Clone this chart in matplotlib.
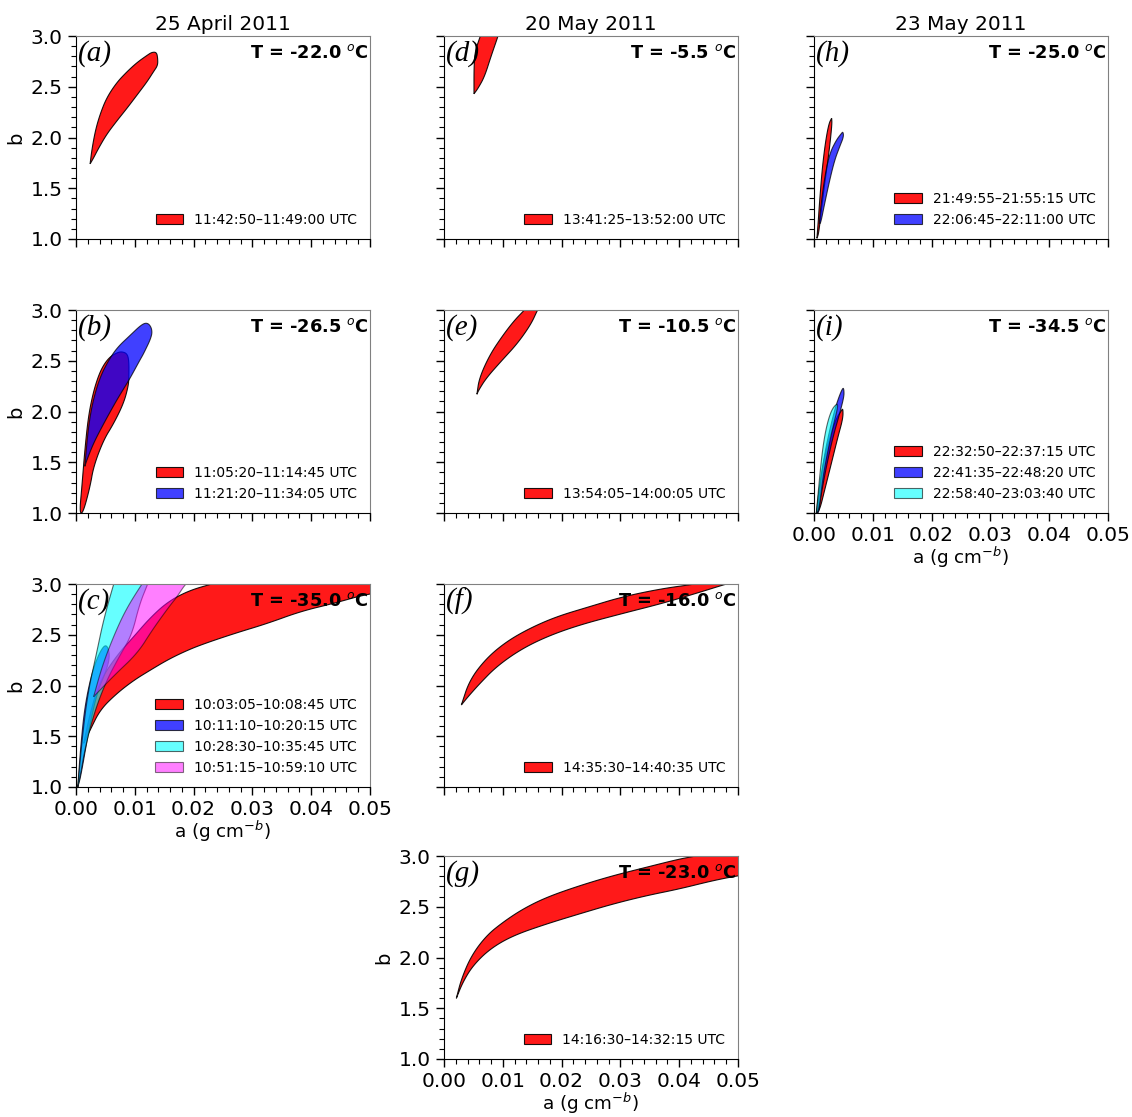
import matplotlib
matplotlib.use('Agg')
import matplotlib.pyplot as plt
from matplotlib.ticker import MultipleLocator
import numpy as np

# ---------------- data (region outlines) ----------------
col_titles = ['25 April 2011', '20 May 2011', '23 May 2011']

temps = {'a': '-22.0', 'b': '-26.5', 'c': '-35.0', 'd': '-5.5', 'e': '-10.5',
         'f': '-16.0', 'g': '-23.0', 'h': '-25.0', 'i': '-34.5'}

labels_a = ['11:42:50\u201311:49:00 UTC']
labels_b = ['11:05:20\u201311:14:45 UTC', '11:21:20\u201311:34:05 UTC']
labels_c = ['10:03:05\u201310:08:45 UTC', '10:11:10\u201310:20:15 UTC',
            '10:28:30\u201310:35:45 UTC', '10:51:15\u201310:59:10 UTC']
labels_d = ['13:41:25\u201313:52:00 UTC']
labels_e = ['13:54:05\u201314:00:05 UTC']
labels_f = ['14:35:30\u201314:40:35 UTC']
labels_g = ['14:16:30\u201314:32:15 UTC']
labels_h = ['21:49:55\u201321:55:15 UTC', '22:06:45\u201322:11:00 UTC']
labels_i = ['22:32:50\u201322:37:15 UTC', '22:41:35\u201322:48:20 UTC',
            '22:58:40\u201323:03:40 UTC']

# panel (a)
a_a_red = [0.0024, 0.0024, 0.0027, 0.0033, 0.0041, 0.0052, 0.0069, 0.0087, 0.0104, 0.0121, 0.0129,
           0.0137, 0.0139, 0.0139, 0.0132, 0.0121, 0.0104, 0.0087, 0.0069, 0.0052, 0.0038, 0.0030]
b_a_red = [1.74, 1.74, 1.88, 2.07, 2.23, 2.39, 2.54, 2.65, 2.74, 2.81, 2.84,
           2.84, 2.78, 2.71, 2.65, 2.55, 2.42, 2.29, 2.16, 2.03, 1.89, 1.80]

# panel (b)
a_b_red = [0.0006, 0.0010, 0.0015, 0.0021, 0.0029, 0.0038, 0.0047, 0.0058, 0.0070, 0.0078,
           0.0087, 0.0090, 0.0090, 0.0089, 0.0081, 0.0064, 0.0047, 0.0030, 0.0024, 0.0012]
b_b_red = [1.00, 1.26, 1.62, 1.95, 2.18, 2.35, 2.46, 2.54, 2.58, 2.59,
           2.57, 2.50, 2.34, 2.25, 2.08, 1.88, 1.72, 1.46, 1.26, 1.00]
a_b_blue = [0.0015, 0.0015, 0.0021, 0.0029, 0.0041, 0.0055, 0.0070, 0.0092, 0.0112, 0.0122,
            0.0129, 0.0129, 0.0115, 0.0109, 0.0095, 0.0087, 0.0069, 0.0047, 0.0030, 0.0019]
b_b_blue = [1.46, 1.46, 1.85, 2.11, 2.34, 2.50, 2.63, 2.75, 2.86, 2.875,
            2.82, 2.74, 2.57, 2.51, 2.36, 2.28, 2.11, 1.88, 1.69, 1.53]

# panel (c)
a_c_red = [0.0013, 0.0013, 0.0025, 0.0041, 0.0070, 0.0098, 0.0125, 0.0155, 0.0190, 0.0230,
           0.0300, 0.0600, 0.0600, 0.0500, 0.0439, 0.0382, 0.0325, 0.0268, 0.0212, 0.0183,
           0.0155, 0.0126, 0.0098, 0.0069, 0.0041, 0.0024]
b_c_red = [1.43, 1.43, 1.75, 2.05, 2.30, 2.48, 2.66, 2.82, 2.93, 3.00,
           3.10, 3.10, 2.98, 2.91, 2.81, 2.73, 2.61, 2.51, 2.40, 2.33,
           2.25, 2.15, 2.05, 1.92, 1.76, 1.56]
a_c_blue = [0.0003, 0.0003, 0.0008, 0.0015, 0.0028, 0.0042, 0.0052, 0.0058, 0.0052, 0.0035,
            0.0020, 0.0008]
b_c_blue = [1.00, 1.00, 1.40, 1.80, 2.15, 2.35, 2.41, 2.30, 2.15, 1.92, 1.50, 1.10]
a_c_cyan = [0.0003, 0.0003, 0.0012, 0.0021, 0.0035, 0.0047, 0.0064, 0.0075, 0.0135, 0.0122,
            0.0108, 0.0095, 0.0075, 0.0052, 0.0032, 0.0016, 0.0007]
b_c_cyan = [1.00, 1.00, 1.56, 1.95, 2.32, 2.65, 3.00, 3.20, 3.20, 3.00,
            2.80, 2.50, 2.30, 2.05, 1.75, 1.40, 1.10]
a_c_mag = [0.0030, 0.0030, 0.0045, 0.0065, 0.0085, 0.0112, 0.0125, 0.0205, 0.0186, 0.0172,
           0.0160, 0.0130, 0.0105, 0.0065]
b_c_mag = [1.89, 1.89, 2.20, 2.50, 2.75, 3.00, 3.10, 3.10, 3.00, 2.875,
           2.79, 2.55, 2.32, 2.10]

# panel (d)
a_d_red = [0.0051, 0.0051, 0.0051, 0.0053, 0.0060, 0.0068, 0.0097, 0.0092, 0.0080, 0.0069, 0.0058]
b_d_red = [2.43, 2.43, 2.70, 2.85, 2.97, 3.10, 3.10, 3.00, 2.80, 2.60, 2.485]

# panel (e)
a_e_red = [0.0056, 0.0056, 0.0060, 0.0078, 0.0100, 0.0120, 0.0137, 0.0145, 0.0165, 0.0159,
           0.0148, 0.0125, 0.0098, 0.0072, 0.0059]
b_e_red = [2.17, 2.17, 2.33, 2.56, 2.75, 2.90, 3.00, 3.06, 3.06, 3.00,
           2.86, 2.67, 2.50, 2.33, 2.21]

# panel (f)
a_f_red = [0.00295, 0.00295, 0.00436, 0.0072, 0.0106, 0.01455, 0.0191, 0.0247, 0.0304, 0.0372,
           0.0429, 0.0470, 0.0500, 0.0480, 0.0429, 0.0372, 0.0304, 0.0230, 0.0174, 0.0129,
           0.0089, 0.0061, 0.0041]
b_f_red = [1.808, 1.808, 2.054, 2.268, 2.432, 2.563, 2.678, 2.776, 2.875, 2.956,
           3.000, 3.050, 3.030, 3.000, 2.908, 2.810, 2.710, 2.596, 2.480, 2.350,
           2.185, 2.020, 1.890]

# panel (g)
a_g_red = [0.0021, 0.0021, 0.00295, 0.00465, 0.0072, 0.0100, 0.0134, 0.0174, 0.0230, 0.0287,
           0.0344, 0.0400, 0.0429, 0.0600,
           0.0600, 0.0500, 0.0457, 0.0400, 0.0344, 0.0287, 0.0230, 0.0174, 0.0117, 0.0078,
           0.0049, 0.0032]
b_g_red = [1.598, 1.598, 1.788, 2.018, 2.215, 2.347, 2.478, 2.593, 2.707, 2.806,
           2.889, 2.970, 3.000, 3.200,
           2.900, 2.806, 2.757, 2.675, 2.609, 2.527, 2.429, 2.330, 2.215, 2.084,
           1.919, 1.756]

# panel (h)
a_h_red = [0.0005, 0.0005, 0.0007, 0.00097, 0.00143, 0.0020, 0.00255, 0.0030, 0.0030, 0.00306,
           0.00279, 0.00238, 0.00182, 0.00126, 0.0008]
b_h_red = [1.007, 1.007, 1.155, 1.384, 1.712, 1.975, 2.14, 2.19, 2.19, 2.14,
           1.975, 1.778, 1.549, 1.286, 1.056]
a_h_blue = [0.0009, 0.0009, 0.00108, 0.00182, 0.00267, 0.0038, 0.00466, 0.00493, 0.00505,
            0.00437, 0.00352, 0.00267, 0.00182, 0.00114]
b_h_blue = [1.15, 1.15, 1.286, 1.614, 1.844, 1.975, 2.04, 2.057, 2.008,
            1.91, 1.778, 1.58, 1.352, 1.155]

# panel (i)
a_i_red = [0.0004, 0.0004, 0.00085, 0.00153, 0.00267, 0.0038, 0.00466, 0.00493, 0.00493,
           0.00408, 0.00296, 0.00182, 0.00097]
b_i_red = [1.0, 1.0, 1.227, 1.49, 1.75, 1.933, 2.01, 2.03, 1.933, 1.752, 1.49, 1.227, 1.03]
a_i_blue = [0.0005, 0.0005, 0.00108, 0.00182, 0.00267, 0.00352, 0.00425, 0.00493, 0.0051,
            0.0051, 0.00437, 0.00323, 0.0021, 0.00126, 0.0008]
b_i_blue = [1.0, 1.0, 1.293, 1.588, 1.818, 2.015, 2.146, 2.238, 2.21,
            2.146, 1.98, 1.75, 1.456, 1.194, 1.0]
a_i_cyan = [0.0004, 0.0004, 0.00085, 0.00143, 0.0021, 0.00296, 0.0039, 0.00408, 0.00323,
            0.00238, 0.00153, 0.00085]
b_i_cyan = [1.0, 1.0, 1.29, 1.62, 1.85, 2.015, 2.08, 2.047, 1.85, 1.62, 1.358, 1.03]

# ---------------- styling ----------------
fill_styles = [('red', 0.9), ('blue', 0.75), ('cyan', 0.6), ('magenta', 0.5)]

panels = {
    'a': (0, 0, [(a_a_red, b_a_red)], labels_a),
    'b': (0, 1, [(a_b_red, b_b_red), (a_b_blue, b_b_blue)], labels_b),
    'c': (0, 2, [(a_c_red, b_c_red), (a_c_blue, b_c_blue), (a_c_cyan, b_c_cyan),
                 (a_c_mag, b_c_mag)], labels_c),
    'd': (1, 0, [(a_d_red, b_d_red)], labels_d),
    'e': (1, 1, [(a_e_red, b_e_red)], labels_e),
    'f': (1, 2, [(a_f_red, b_f_red)], labels_f),
    'g': (1, 3, [(a_g_red, b_g_red)], labels_g),
    'h': (2, 0, [(a_h_red, b_h_red), (a_h_blue, b_h_blue)], labels_h),
    'i': (2, 1, [(a_i_red, b_i_red), (a_i_blue, b_i_blue), (a_i_cyan, b_i_cyan)], labels_i),
}
bottom_panels = {'c', 'g', 'i'}
ylabel_panels = {'a', 'b', 'c', 'g'}


def smooth_closed(xs, ys, n_iter=3):
    """Chaikin corner cutting of a closed outline (repeated vertices stay sharp)."""
    p = np.column_stack([xs, ys]).astype(float)
    for _ in range(n_iter):
        q = np.roll(p, -1, axis=0)
        p = np.column_stack([0.75 * p + 0.25 * q, 0.25 * p + 0.75 * q]).reshape(-1, 2)
    return p[:, 0], p[:, 1]


W, H = 1132, 1117
col_left = [76, 444, 814]
row_top = [36, 310, 584, 856]
ax_w, ax_h = 294, 203

fig = plt.figure(figsize=(W / 100, H / 100), dpi=100)

for key, (col, row, regions, labels) in panels.items():
    left = col_left[col] / W
    bottom = 1 - (row_top[row] + ax_h) / H
    ax = fig.add_axes([left, bottom, ax_w / W, ax_h / H])
    for (av, bv), (c, al), lab in zip(regions, fill_styles, labels):
        sx, sy = smooth_closed(av, bv)
        ax.fill(sx, sy, facecolor=c, edgecolor='black', alpha=al, lw=0.8, label=lab)
    ax.set_xlim(0, 0.05)
    ax.set_ylim(1.0, 3.0)
    ax.xaxis.set_major_locator(MultipleLocator(0.01))
    ax.xaxis.set_minor_locator(MultipleLocator(0.002))
    ax.yaxis.set_major_locator(MultipleLocator(0.5))
    ax.yaxis.set_minor_locator(MultipleLocator(0.1))
    ax.tick_params(which='both', direction='out', top=False, right=False, labelsize=14.5)
    ax.tick_params(which='major', length=6, width=1)
    ax.tick_params(which='minor', length=3.5, width=0.8)
    for s in ('top', 'right'):
        ax.spines[s].set_color('0.5')
    ax.xaxis.set_major_formatter(plt.FormatStrFormatter('%.2f'))
    ax.yaxis.set_major_formatter(plt.FormatStrFormatter('%.1f'))
    if key in bottom_panels:
        ax.set_xlabel('a (g cm$^{-b}$)', fontsize=13.2, labelpad=0)
    else:
        ax.tick_params(labelbottom=False)
    if key in ylabel_panels:
        ax.set_ylabel('b', fontsize=14, labelpad=4)
    else:
        ax.tick_params(labelleft=False)
    if row == 0:
        ax.set_title(col_titles[col], fontsize=14.5, pad=4)
    ax.text(0.995, 0.915, 'T = ' + temps[key] + ' $^{o}$C', transform=ax.transAxes,
            ha='right', va='center', fontsize=12.8, fontweight='bold', zorder=5)
    ax.text(0.005, 0.915, '(' + key + ')', transform=ax.transAxes, ha='left', va='center',
            fontsize=21, family='Liberation Serif', style='italic', zorder=5)
    ax.legend(loc='lower right', frameon=False, fontsize=10)

fig.savefig('out.png', dpi=100)
